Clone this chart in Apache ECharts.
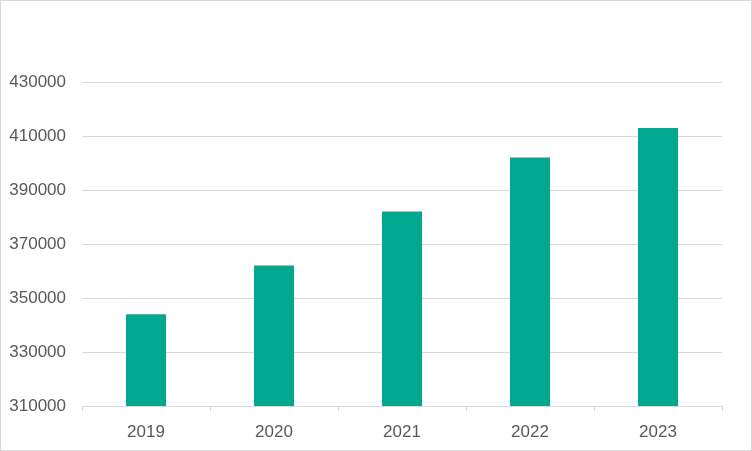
<!DOCTYPE html>
<html><head><meta charset="utf-8">
<script src="https://cdn.jsdelivr.net/npm/echarts@6/dist/echarts.min.js"></script>
<style>html,body{margin:0;padding:0;background:#fff}#c{width:752px;height:451px;box-sizing:border-box;border:1px solid #d9d9d9}</style>
</head><body><div id="c"></div>
<script>
var categories = ['2019','2020','2021','2022','2023'];
var values = [344000, 362000, 382000, 402000, 413000];
var chart = echarts.init(document.getElementById('c'), null, {renderer:'canvas'});
chart.setOption({
  animation:false,
  grid:{left:81, right:29, top:81, bottom:44, containLabel:false},
  xAxis:{type:'category', data:categories, boundaryGap:true,
    axisLine:{show:true, lineStyle:{color:'#d9d9d9', width:1}},
    axisTick:{show:true, length:5, lineStyle:{color:'#d9d9d9'}},
    axisLabel:{color:'#595959', fontSize:17, fontFamily:'Liberation Sans, Arial', margin:18}},
  yAxis:{type:'value', min:310000, max:430000, interval:20000,
    axisLine:{show:false}, axisTick:{show:false},
    splitLine:{lineStyle:{color:'#d9d9d9', width:1}},
    axisLabel:{color:'#595959', fontSize:17, fontFamily:'Liberation Sans, Arial', margin:16,
      formatter:function(v){return String(v);}}},
  series:[{type:'bar', data:values, barWidth:40, itemStyle:{color:'#00A98F'}}]
});
</script></body></html>
